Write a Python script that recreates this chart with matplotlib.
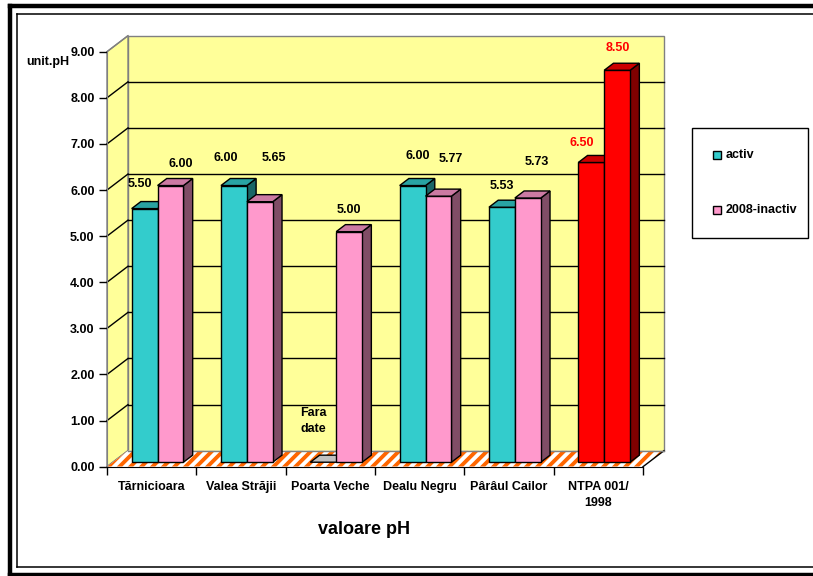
"""
pH values per sampling point, activ vs 2008-inactiv, with NTPA 001/1998 limits
"""

import matplotlib.pyplot as plt
import numpy as np
from matplotlib.patches import Polygon, Rectangle
from matplotlib.lines import Line2D

plt.rcParams['font.family'] = ['Liberation Sans', 'DejaVu Sans']
plt.rcParams['font.size'] = 9
plt.rcParams['font.weight'] = 'bold'

# data
categories = ['Tărnicioara', 'Valea Străjii', 'Poarta Veche', 'Dealu Negru',
              'Pârâul Cailor', 'NTPA 001/\n1998']
activ = [5.50, 6.00, np.nan, 6.00, 5.53, 6.50]
inactiv = [6.00, 5.65, 5.00, 5.77, 5.73, 8.50]
series_names = ['activ', '2008-inactiv']
limit_idx = 5          # last group = legal limits, drawn in red
yticks = np.arange(0, 10, 1)

# label nudges in pixels (right, up) from the front-top centre of each bar
nudge_activ = [(-5, 25), (-8, 28), (-10, 41), (5, 30), (0, 21), (-10, 19)]
nudge_inactiv = [(10, 22), (14, 44), (0, 22), (12, 37), (9, 36), (1, 22)]

# colours: front, top, side
TEAL = ('#33CCCC', '#29A3A3', '#1A6666')
PINK = ('#FF99CC', '#CC7AA3', '#804D66')
RED = ('#FF0000', '#CC0000', '#800000')
WALL = '#FFFF99'
EDGE_GRAY = '#808080'
STRIPE = '#FF6600'

# oblique depth of the plot box and of the bars (data units)
DX, DY = 0.235, 0.347
F, G = 0.28, 0.44
GAP, BW = 0.21, 0.29

W, H = 813, 576
X_PX, Y_PX = 89.33, 46.11      # pixels per data unit on the front plane
fig = plt.figure(figsize=(W / 100, H / 100), dpi=100)
fig.patch.set_facecolor('white')


def fx(x):
    return x / W


def fy(y):
    return 1 - y / H


ax = fig.add_axes([fx(107), fy(466.7), 536 / W, 415 / H])
ax.patch.set_visible(False)
ax.set_xlim(0, 6)
ax.set_ylim(0, 9)
n = len(categories)

# walls
back = Polygon([(DX, DY), (n + DX, DY), (n + DX, 9 + DY), (DX, 9 + DY)],
               closed=True, fc=WALL, ec=EDGE_GRAY, lw=1, clip_on=False, zorder=0)
side = Polygon([(0, 0), (DX, DY), (DX, 9 + DY), (0, 9)],
               closed=True, fc=WALL, ec=EDGE_GRAY, lw=1, clip_on=False, zorder=0)
ax.add_patch(back)
ax.add_patch(side)

for v in yticks:
    c = EDGE_GRAY if v in (0, 9) else 'black'
    if 0 < v < 9:
        ax.plot([DX, n + DX], [v + DY, v + DY], color='black', lw=1,
                clip_on=False, zorder=0.5)
    ax.plot([0, DX], [v, v + DY], color=c, lw=1, clip_on=False, zorder=0.5)

# striped floor
floor = Polygon([(0, 0), (n, 0), (n + DX, DY), (DX, DY)], closed=True,
                fc='white', ec='none', clip_on=False, zorder=0.6)
ax.add_patch(floor)
period, sw = 11 / X_PX, 5.5 / X_PX
shift = DY * Y_PX / X_PX
for a in np.arange(-1, n + 1, period):
    st = Polygon([(a, 0), (a + sw, 0), (a + sw + shift, DY), (a + shift, DY)],
                 closed=True, fc=STRIPE, ec='none', zorder=0.65)
    ax.add_patch(st)
    st.set_clip_path(floor)
    st.set_clip_box(None)
ax.plot([n, n + DX], [0, DY], color='black', lw=1, clip_on=False, zorder=0.7)
ax.plot([DX, n + DX], [DY, DY], color=EDGE_GRAY, lw=1, clip_on=False, zorder=0.7)


def draw_bar(x0, h, cols):
    ox, oy = F * DX, F * DY
    gx, gy = G * DX, G * DY
    x, y = x0 + ox, oy
    front = [(x, y), (x + BW, y), (x + BW, y + h), (x, y + h)]
    top = [(x, y + h), (x + BW, y + h), (x + BW + gx, y + h + gy), (x + gx, y + h + gy)]
    rside = [(x + BW, y), (x + BW + gx, y + gy), (x + BW + gx, y + h + gy), (x + BW, y + h)]
    for pts, c in ((rside, cols[2]), (front, cols[0]), (top, cols[1])):
        if h == 0 and pts is not top:
            continue
        ax.add_patch(Polygon(pts, closed=True, fc=c, ec='black', lw=1,
                             clip_on=False, zorder=2))


for i in range(n):
    for s, vals in enumerate((activ, inactiv)):
        v = vals[i]
        if i == limit_idx:
            cols = RED
        else:
            cols = TEAL if s == 0 else PINK
        x0 = i + GAP + BW * s
        if np.isnan(v):
            draw_bar(x0, 0, ('#C0C0C0', '#C0C0C0', '#C0C0C0'))
            txt = 'Fara\ndate'
            hv = 0
        else:
            draw_bar(x0, v, cols)
            txt = f'{v:.2f}'
            hv = v
        nd = (nudge_activ if s == 0 else nudge_inactiv)[i]
        ax.annotate(txt, xy=(x0 + F * DX + BW / 2, hv + F * DY),
                    xytext=nd, textcoords='offset pixels',
                    ha='center', va='center', fontsize=9, fontweight='bold',
                    color='red' if i == limit_idx else 'black',
                    linespacing=1.5, annotation_clip=False, zorder=3)

# front axes
for sp in ('top', 'right'):
    ax.spines[sp].set_visible(False)
ax.spines['left'].set_color(EDGE_GRAY)
ax.spines['bottom'].set_color('black')
ax.set_yticks(yticks)
ax.set_yticklabels([f'{v:.2f}' for v in yticks])
ax.tick_params(axis='y', direction='out', length=6, width=1, color='black', pad=3,
               labelsize=9)
ax.set_xticks(np.arange(0, n + 1))
ax.set_xticklabels([])
ax.set_xticks(np.arange(n) + 0.5, minor=True)
ax.set_xticklabels(categories, minor=True, fontsize=9, fontweight='bold',
                   linespacing=1.5)
ax.tick_params(axis='x', which='major', direction='out', length=6, width=1)
ax.tick_params(axis='x', which='minor', length=0, pad=10)

fig.text(fx(26), fy(62), 'unit.pH', ha='left', va='center', fontsize=9,
         fontweight='bold')
fig.text(fx(364), fy(530), 'valoare pH', ha='center', va='center', fontsize=13,
         fontweight='bold')

# legend box
fig.add_artist(Rectangle((fx(692), fy(238)), 116 / W, 110 / H, fc='white',
                         ec='black', lw=1, transform=fig.transFigure))
for (yc, name, col) in ((155, series_names[0], TEAL[0]), (210, series_names[1], PINK[0])):
    fig.add_artist(Rectangle((fx(713), fy(yc + 4)), 8 / W, 8 / H, fc=col, ec='black',
                             lw=1, transform=fig.transFigure))
    fig.text(fx(726), fy(yc), name, ha='left', va='center', fontsize=9,
             fontweight='bold')

# chart frame: thick outer line, thin inner line
fig.add_artist(Line2D([fx(9.5), fx(9.5)], [fy(6), fy(576)], color='black', lw=3.2))
fig.add_artist(Line2D([fx(9.5), 1], [fy(6), fy(6)], color='black', lw=3.2))
fig.add_artist(Line2D([fx(9.5), 1], [fy(575), fy(575)], color='black', lw=3.2))
fig.add_artist(Line2D([fx(17.3), fx(17.3)], [fy(14.3), fy(567)], color='black', lw=1.1))
fig.add_artist(Line2D([fx(17.3), 1], [fy(14.3), fy(14.3)], color='black', lw=1.1))
fig.add_artist(Line2D([fx(17.3), 1], [fy(567), fy(567)], color='black', lw=1.1))

fig.savefig('out.png', dpi=100, facecolor='white')
